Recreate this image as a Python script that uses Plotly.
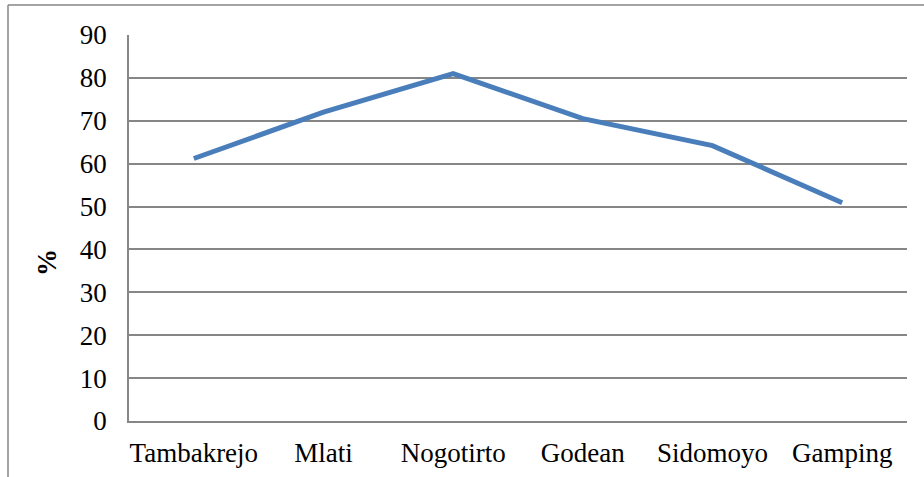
import plotly.graph_objects as go

# Share (%) per area
areas = ["Tambakrejo", "Mlati", "Nogotirto", "Godean", "Sidomoyo", "Gamping"]
percent = [61.2, 72.0, 81.0, 70.5, 64.2, 50.9]
y_ticks = [0, 10, 20, 30, 40, 50, 60, 70, 80, 90]

W, H = 924, 477
L, R, T, B = 129, 17, 35, 56
pw, ph = W - L - R, H - T - B

fig = go.Figure(
    go.Scatter(
        x=areas,
        y=percent,
        mode="lines",
        line=dict(color="#4a7ebb", width=5),
        hoverinfo="x+y",
    )
)

font = dict(family="Liberation Serif, Times New Roman, serif", size=27, color="#000000")

fig.update_layout(
    width=W,
    height=H,
    margin=dict(l=L, r=R, t=T, b=B, autoexpand=False),
    paper_bgcolor="#ffffff",
    plot_bgcolor="#ffffff",
    showlegend=False,
    font=font,
    xaxis=dict(
        type="category",
        range=[-0.5, len(areas) - 0.5],
        automargin=False,
        showgrid=False,
        showline=True,
        linecolor="#868686",
        linewidth=1.5,
        ticks="",
        ticklabelstandoff=7,
        tickfont=font,
        zeroline=False,
    ),
    yaxis=dict(
        range=[0, 90],
        tickvals=y_ticks,
        automargin=False,
        showgrid=True,
        gridcolor="#868686",
        gridwidth=1.5,
        showline=True,
        linecolor="#868686",
        linewidth=1.5,
        ticks="",
        ticklabelstandoff=15,
        tickfont=font,
        zeroline=False,
    ),
    annotations=[
        dict(
            text="<b>%</b>",
            xref="paper",
            yref="paper",
            x=(47 - L) / pw,
            y=(H - B - 263) / ph,
            xanchor="center",
            yanchor="middle",
            textangle=-90,
            showarrow=False,
            font=font,
        )
    ],
    shapes=[
        # outer chart-area frame (left and top edges visible)
        dict(
            type="line",
            xref="paper",
            yref="paper",
            x0=(8 - L) / pw,
            x1=(8 - L) / pw,
            y0=(H - B - 5) / ph,
            y1=(H - B - 480) / ph,
            line=dict(color="#868686", width=1.5),
        ),
        dict(
            type="line",
            xref="paper",
            yref="paper",
            x0=(8 - L) / pw,
            x1=(930 - L) / pw,
            y0=(H - B - 5) / ph,
            y1=(H - B - 5) / ph,
            line=dict(color="#868686", width=1.5),
        ),
    ],
)

fig.write_html("out.html")
